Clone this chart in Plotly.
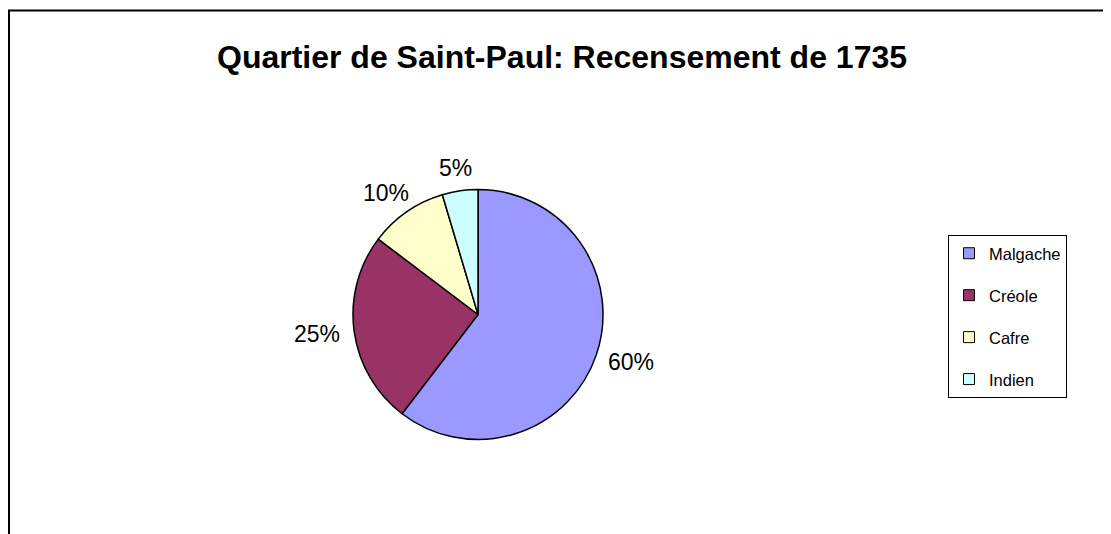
import math
import plotly.graph_objects as go

categories = ["Malgache", "Créole", "Cafre", "Indien"]
values = [60.4, 24.9, 10.1, 4.6]
colors = ["#9999FF", "#993366", "#FFFFCC", "#CCFFFF"]
title_text = "Quartier de Saint-Paul: Recensement de 1735"

W, H = 1111, 534
OFF = 8  # default page body margin in the written html
FONT = "Liberation Sans, Arial, sans-serif"
LABEL_SIZE = 23


def px(x):
    return (x - OFF) / W


def py(y):
    return 1 - (y - OFF) / H


cx, cy, r = 478, 314.5, 125

fig = go.Figure()
fig.add_trace(go.Pie(
    labels=categories, values=values,
    marker=dict(colors=colors, line=dict(color="black", width=1.5)),
    sort=False, direction="clockwise", rotation=0,
    textinfo="none",
    showlegend=False, hoverinfo="label+percent",
    domain=dict(x=[px(cx - r), px(cx + r)],
                y=[py(cy + r), py(cy - r)]),
))

# percentage labels placed outside each slice, Excel style, derived from the values
total = sum(values)
annotations = []
cum = 0.0
for v in values:
    frac = v / total
    mid = 2 * math.pi * (cum + frac / 2)
    cum += frac
    ux, uy = math.sin(mid), -math.cos(mid)
    txt = f"{round(frac * 100)}%"
    w = LABEL_SIZE * (0.556 * (len(txt) - 1) + 0.889)
    h = LABEL_SIZE * 0.78
    d = r + 14
    lx = cx + d * ux + ux * w / 2
    ly = cy + d * uy + uy * h / 2
    annotations.append(dict(
        x=px(lx), y=py(ly), xref="paper", yref="paper",
        xanchor="center", yanchor="middle", showarrow=False,
        text=txt, font=dict(family=FONT, size=LABEL_SIZE, color="black"),
    ))

for name, col in zip(categories, colors):
    fig.add_trace(go.Scatter(
        x=[None], y=[None], mode="markers", name=name,
        legendgroup=name,
        marker=dict(symbol="square", size=11, color=col,
                    line=dict(color="black", width=1)),
    ))

fig.update_layout(
    width=W, height=H,
    margin=dict(l=0, r=0, t=0, b=0),
    paper_bgcolor="white", plot_bgcolor="white",
    font=dict(family=FONT, color="black"),
    title=dict(text="<b>" + title_text + "</b>", x=px(562), xanchor="center",
               y=py(57), yanchor="middle",
               font=dict(family=FONT, size=32, color="black")),
    xaxis=dict(visible=False), yaxis=dict(visible=False),
    legend=dict(x=px(948), y=py(235), xanchor="left", yanchor="top",
                bordercolor="black", borderwidth=1, bgcolor="white",
                font=dict(family=FONT, size=16.5, color="black"),
                tracegroupgap=17.5, itemclick=False),
    annotations=annotations,
    shapes=[dict(type="rect", xref="paper", yref="paper",
                 x0=px(9), x1=px(1109.5), y0=-0.1, y1=py(10.5),
                 line=dict(color="black", width=2))],
)

fig.write_html("out.html")
